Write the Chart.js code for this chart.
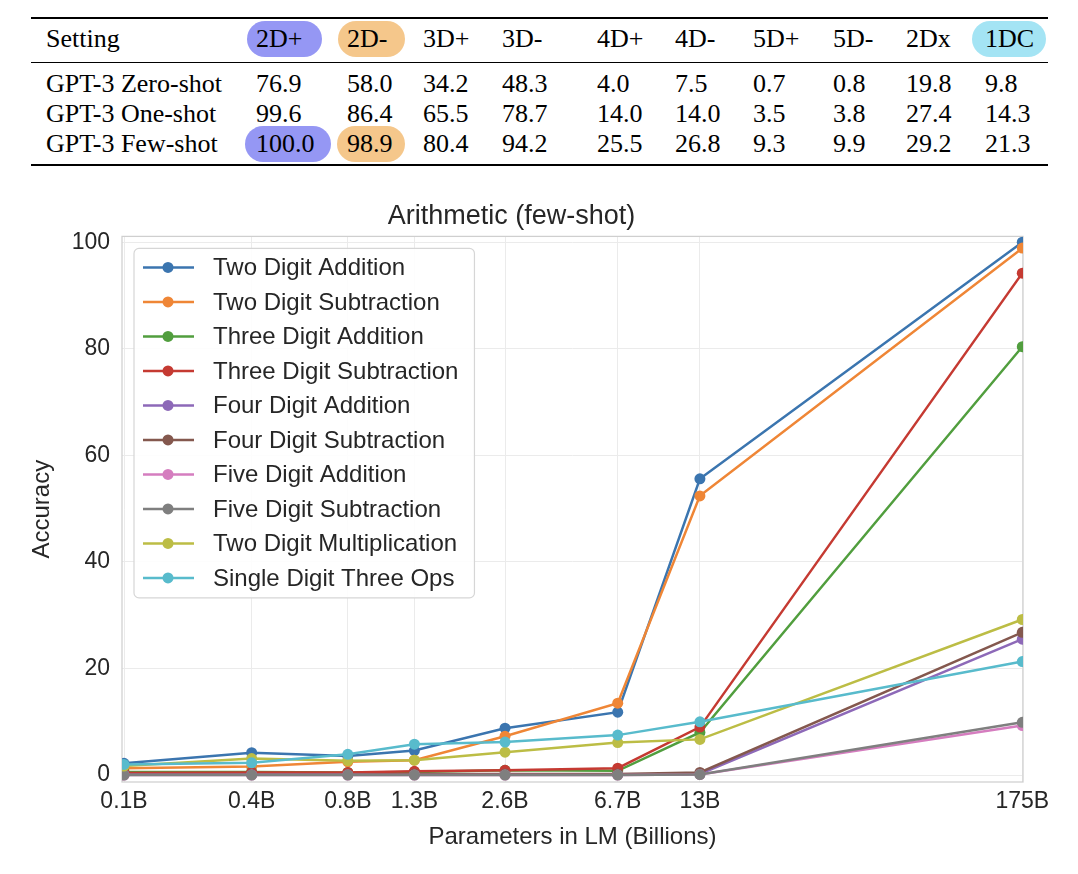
<!DOCTYPE html>
<html>
<head>
<meta charset="utf-8">
<title>Arithmetic (few-shot)</title>
<script src="https://cdn.jsdelivr.net/npm/chart.js@4.4.0/dist/chart.umd.min.js"></script>
<style>
  html, body { margin: 0; padding: 0; background: #fff; }
  body { width: 1078px; height: 874px; position: relative; overflow: hidden; }
  #results {
    position: absolute; left: 31px; top: 17px;
    border-collapse: collapse; table-layout: fixed;
    border-top: 2px solid #000; border-bottom: 2px solid #000;
    font-family: "Liberation Serif", "Times New Roman", serif;
    font-size: 26px; color: #000;
  }
  #results th, #results td {
    text-align: left; font-weight: normal; white-space: nowrap;
    padding: 0 0 0 9px; line-height: 30px;
  }
  #results th { padding-top: 5px; padding-bottom: 8px; border-bottom: 1px solid #000; }
  #results .first { padding-left: 15px; }
  #results tbody tr:first-child td { padding-top: 6px; }
  #results tbody tr:last-child td { padding-bottom: 5px; }
  .pill {
    display: inline-block; line-height: 30px; border-radius: 18px;
    padding: 3px 20px 3px 9px; margin: -3px -20px -3px -9px;
  }
  #chartBox { position: absolute; left: 0; top: 180px; width: 1078px; height: 694px; }
</style>
</head>
<body>
<table id="results"></table>
<div id="chartBox"><canvas id="arithChart"></canvas></div>
<script>
// table at the top
const tableHeader = ["Setting", "2D+", "2D-", "3D+", "3D-", "4D+", "4D-", "5D+", "5D-", "2Dx", "1DC"];
const settingNames = ["GPT-3 Zero-shot", "GPT-3 One-shot", "GPT-3 Few-shot"];
const zeroShot = [76.9, 58.0, 34.2, 48.3, 4.0, 7.5, 0.7, 0.8, 19.8, 9.8];
const oneShot = [99.6, 86.4, 65.5, 78.7, 14.0, 14.0, 3.5, 3.8, 27.4, 14.3];
const fewShot = [100.0, 98.9, 80.4, 94.2, 25.5, 26.8, 9.3, 9.9, 29.2, 21.3];

// chart data
const paramsB = [0.125, 0.35, 0.76, 1.3, 2.7, 6.7, 13, 175];
const xTickLabels = ["0.1B", "0.4B", "0.8B", "1.3B", "2.6B", "6.7B", "13B", "175B"];
const yTickValues = [0, 20, 40, 60, 80, 100];
const seriesNames = [
  "Two Digit Addition", "Two Digit Subtraction", "Three Digit Addition",
  "Three Digit Subtraction", "Four Digit Addition", "Four Digit Subtraction",
  "Five Digit Addition", "Five Digit Subtraction", "Two Digit Multiplication",
  "Single Digit Three Ops"
];
const twoDigitAdd = [2.2, 4.2, 3.6, 4.6, 8.8, 11.8, 55.6, 100.0];
const twoDigitSub = [1.3, 1.6, 2.5, 2.8, 7.3, 13.5, 52.4, 98.9];
const threeDigitAdd = [0.6, 0.6, 0.5, 0.6, 0.9, 0.8, 8.0, 80.4];
const threeDigitSub = [0.4, 0.5, 0.5, 0.7, 0.9, 1.3, 9.0, 94.2];
const fourDigitAdd = [0.1, 0.1, 0.1, 0.1, 0.1, 0.1, 0.2, 25.5];
const fourDigitSub = [0.1, 0.1, 0.1, 0.2, 0.2, 0.2, 0.5, 26.8];
const fiveDigitAdd = [0.0, 0.0, 0.0, 0.0, 0.0, 0.0, 0.1, 9.3];
const fiveDigitSub = [0.0, 0.0, 0.0, 0.0, 0.0, 0.0, 0.1, 9.9];
const twoDigitMul = [1.7, 3.1, 2.7, 2.8, 4.3, 6.1, 6.7, 29.2];
const singleDigitOps = [2.0, 2.3, 3.9, 5.8, 6.2, 7.5, 10.0, 21.3];

const seriesValues = [twoDigitAdd, twoDigitSub, threeDigitAdd, threeDigitSub, fourDigitAdd,
  fourDigitSub, fiveDigitAdd, fiveDigitSub, twoDigitMul, singleDigitOps];
const seriesColors = ["#3b75af", "#ef8636", "#519e3e", "#c53a32", "#8d69b8",
  "#84584e", "#d57dbf", "#7f7f7f", "#bcbd45", "#58bbcc"];

// highlighted cells: [row (-1 = header), column] -> colour and pill padding
const pills = {
  "-1,1": { color: "#9597f4", pad: [9, 20] },
  "-1,2": { color: "#f5c78b", pad: [9, 18] },
  "-1,10": { color: "#a4e4f4", pad: [13, 12] },
  "2,1": { color: "#9597f4", pad: [11, 16] },
  "2,2": { color: "#f5c78b", pad: [10, 12] }
};
const colWidths = [216, 91, 76, 79, 95, 78, 78, 80, 73, 79, 72];

function cellHtml(text, row, col) {
  const p = pills[row + "," + col];
  if (!p) return text;
  return `<span class="pill" style="background:${p.color};padding-left:${p.pad[0]}px;padding-right:${p.pad[1]}px;margin-left:-${p.pad[0]}px;margin-right:-${p.pad[1]}px">${text}</span>`;
}

function buildTable() {
  const table = document.getElementById("results");
  let html = "<colgroup>" + colWidths.map(w => `<col style="width:${w}px">`).join("") + "</colgroup>";
  html += "<thead><tr>" + tableHeader.map((h, c) =>
    `<th${c === 0 ? ' class="first"' : ""}>${cellHtml(h, -1, c)}</th>`).join("") + "</tr></thead><tbody>";
  [zeroShot, oneShot, fewShot].forEach((vals, r) => {
    html += `<tr><td class="first">${settingNames[r]}</td>` +
      vals.map((v, c) => `<td>${cellHtml(v.toFixed(1), r, c + 1)}</td>`).join("") + "</tr>";
  });
  html += "</tbody>";
  table.innerHTML = html;
}
buildTable();

Chart.defaults.font.family = '"Liberation Sans", Arial, sans-serif';
Chart.defaults.color = "#262626";

// frame round the plot area (matplotlib style spines)
const plotFrame = {
  id: "plotFrame",
  beforeDatasetsDraw(chart) {
    const { ctx, chartArea } = chart;
    ctx.save();
    ctx.strokeStyle = "#cfcfcf";
    ctx.lineWidth = 1.25;
    ctx.strokeRect(chartArea.left, chartArea.top, chartArea.right - chartArea.left, chartArea.bottom - chartArea.top);
    ctx.restore();
  }
};

// legend drawn inside the plot, upper left
const innerLegend = {
  id: "innerLegend",
  afterDatasetsDraw(chart) {
    const { ctx, chartArea } = chart;
    const x = chartArea.left + 12;
    const y = chartArea.top + 12;
    const rowH = 34.5;
    ctx.save();
    ctx.font = '24px "Liberation Sans", Arial, sans-serif';
    let maxW = 0;
    seriesNames.forEach(n => { maxW = Math.max(maxW, ctx.measureText(n).width); });
    const w = 79 + maxW + 16;
    const h = 19 + rowH * (seriesNames.length - 1) + 20;
    ctx.beginPath();
    ctx.roundRect(x, y, w, h, 5);
    ctx.fillStyle = "rgba(255,255,255,0.9)";
    ctx.fill();
    ctx.strokeStyle = "#d6d6d6";
    ctx.lineWidth = 1.2;
    ctx.stroke();
    seriesNames.forEach((name, i) => {
      const cy = y + 19 + i * rowH;
      ctx.strokeStyle = seriesColors[i];
      ctx.lineWidth = 2.5;
      ctx.beginPath();
      ctx.moveTo(x + 9, cy);
      ctx.lineTo(x + 60, cy);
      ctx.stroke();
      ctx.fillStyle = seriesColors[i];
      ctx.beginPath();
      ctx.arc(x + 34, cy, 5.5, 0, Math.PI * 2);
      ctx.fill();
      ctx.fillStyle = "#262626";
      ctx.textBaseline = "middle";
      ctx.fillText(name, x + 79, cy + 1);
    });
    ctx.restore();
  }
};

const datasets = seriesNames.map((name, i) => ({
  label: name,
  data: paramsB.map((p, k) => ({ x: p, y: seriesValues[i][k] })),
  borderColor: seriesColors[i],
  backgroundColor: seriesColors[i],
  pointBackgroundColor: seriesColors[i],
  pointBorderWidth: 0,
  pointRadius: 5.5,
  borderWidth: 2.5,
  tension: 0,
  clip: 0,
  order: seriesNames.length - i
}));

new Chart(document.getElementById("arithChart"), {
  type: "line",
  data: { datasets: datasets },
  options: {
    responsive: true,
    maintainAspectRatio: false,
    animation: false,
    layout: { padding: { left: 0, right: 55, top: 0, bottom: 0 } },
    plugins: {
      legend: { display: false },
      tooltip: { enabled: false },
      title: {
        display: true,
        text: "Arithmetic (few-shot)",
        color: "#262626",
        font: { size: 27, weight: "normal", lineHeight: 1.2 },
        padding: { top: 20, bottom: 4 }
      }
    },
    scales: {
      x: {
        type: "logarithmic",
        min: 0.123,
        max: 176,
        afterBuildTicks(axis) { axis.ticks = paramsB.map(v => ({ value: v })); },
        afterFit(axis) { axis.height = 92; },
        ticks: {
          autoSkip: false, maxRotation: 0, padding: 6,
          font: { size: 23 },
          callback: (v, i) => xTickLabels[i]
        },
        grid: { color: "#ebebeb", lineWidth: 1, drawTicks: false },
        border: { display: false },
        title: {
          display: true,
          text: "Parameters in LM (Billions)",
          font: { size: 24 },
          padding: { bottom: 22 }
        }
      },
      y: {
        type: "linear",
        min: -1.3,
        max: 101.1,
        afterBuildTicks(axis) { axis.ticks = yTickValues.map(v => ({ value: v })); },
        afterFit(axis) { axis.width = 122; },
        ticks: { padding: 12, font: { size: 23 } },
        grid: { color: "#ebebeb", lineWidth: 1, drawTicks: false },
        border: { display: false },
        title: {
          display: true,
          text: "Accuracy",
          font: { size: 24 },
          padding: { top: 28 }
        }
      }
    }
  },
  plugins: [plotFrame, innerLegend]
});
</script>
</body>
</html>
